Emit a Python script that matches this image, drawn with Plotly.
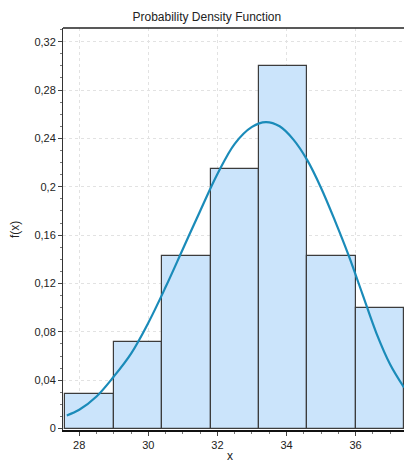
import plotly.graph_objects as go

# Histogram bins (left edges) and densities
bin_left = [27.6, 29.0, 30.4, 31.8, 33.2, 34.6, 36.0]
bin_width = 1.4
density = [0.0286, 0.0714, 0.1429, 0.2143, 0.300, 0.1429, 0.100]

# PDF curve points
curve_x = [27.64, 28.0, 28.5, 29.0, 29.5, 30.0, 30.5, 31.0, 31.5, 32.0, 32.5, 33.0,
           33.4, 33.8, 34.2, 34.6, 35.0, 35.4, 35.8, 36.2, 36.6, 37.0, 37.4]
curve_y = [0.0108, 0.0155, 0.0265, 0.0430, 0.0620, 0.0875, 0.1170, 0.1485, 0.1800,
           0.2105, 0.2355, 0.2495, 0.2535, 0.2500, 0.2390, 0.2220, 0.1990, 0.1720,
           0.1430, 0.1110, 0.0790, 0.0530, 0.0340]

x_ticks = [28, 30, 32, 34, 36]
y_ticks = [0, 0.04, 0.08, 0.12, 0.16, 0.2, 0.24, 0.28, 0.32]
y_tick_text = ["0", "0,04", "0,08", "0,12", "0,16", "0,2", "0,24", "0,28", "0,32"]

centers = [b + bin_width / 2 for b in bin_left]

fig = go.Figure()
fig.add_trace(go.Bar(
    x=centers, y=density, width=[bin_width] * len(centers),
    marker=dict(color="#cbe4fb", line=dict(color="#3c3c3c", width=1.2)),
    hoverinfo="skip",
))
fig.add_trace(go.Scatter(
    x=curve_x, y=curve_y, mode="lines",
    line=dict(color="#1a8bb9", width=2.2, shape="spline", smoothing=1.0),
    hoverinfo="skip",
))

font_family = "Liberation Sans, Arial, sans-serif"
fig.update_layout(
    width=404, height=462,
    margin=dict(l=63, r=0, t=28, b=32, autoexpand=False),
    paper_bgcolor="white", plot_bgcolor="white",
    showlegend=False,
    bargap=0,
    font=dict(family=font_family, size=11, color="#222"),
    title=dict(text="Probability Density Function", x=0.512, xanchor="center",
               y=1 - 17 / 462, yanchor="middle", font=dict(size=12, color="#222")),
)
fig.update_xaxes(
    range=[27.53, 37.40], automargin=False,
    tickvals=x_ticks, ticktext=[str(t) for t in x_ticks],
    ticks="outside", ticklen=4, tickcolor="#444",
    minor=dict(dtick=0.5, tick0=28, ticks="outside", ticklen=2, tickcolor="#777", showgrid=False),
    showgrid=True, gridcolor="#e2e2e2", griddash="dot", gridwidth=1,
    showline=True, linecolor="#111", linewidth=2, mirror=False,
    zeroline=False,
    tickfont=dict(size=11, color="#222"),
)
fig.update_yaxes(
    range=[-0.0012, 0.3313], automargin=False,
    tickvals=y_ticks, ticktext=y_tick_text,
    ticks="outside", ticklen=4, tickcolor="#444",
    minor=dict(dtick=0.01, tick0=0, ticks="outside", ticklen=2, tickcolor="#777", showgrid=False),
    showgrid=True, gridcolor="#e2e2e2", griddash="dot", gridwidth=1,
    showline=True, linecolor="#333", linewidth=1,
    zeroline=False,
    tickfont=dict(size=11, color="#222"),
)
# axis titles
fig.add_annotation(text="x", xref="paper", yref="paper", x=0.49, y=-26 / 402,
                   xanchor="center", yanchor="middle", showarrow=False, font=dict(size=12))
fig.add_annotation(text="f(x)", xref="paper", yref="paper", x=-48 / 341, y=0.5,
                   xanchor="center", yanchor="middle", textangle=-90, showarrow=False,
                   font=dict(size=12))
# top border line
fig.add_shape(type="line", xref="paper", yref="paper", x0=0, x1=1, y0=1, y1=1,
              line=dict(color="#222", width=1.5))

fig.write_html("out.html", config={"displayModeBar": False},
               post_script="document.body.style.margin='0';document.body.style.overflow='hidden';")
